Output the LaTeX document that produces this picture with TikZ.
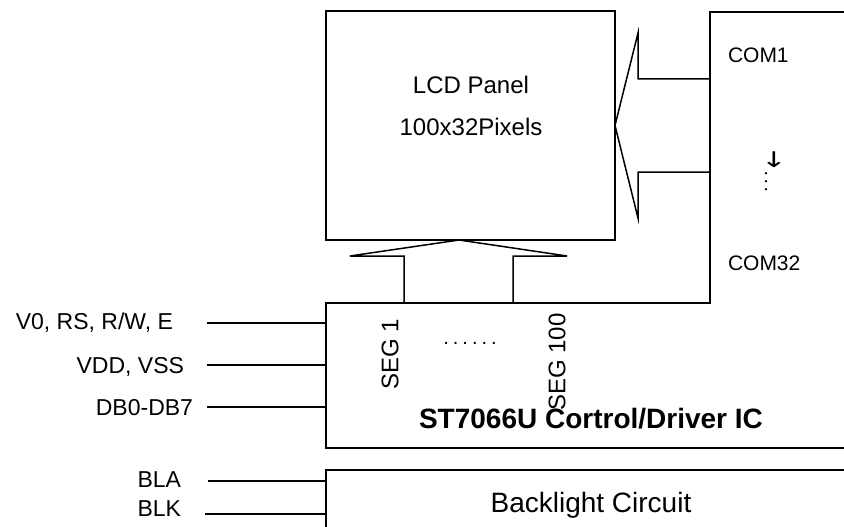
\documentclass[tikz,border=0pt]{standalone}
\usepackage{fontspec}
\setmainfont{Liberation Sans}
\newfontfamily\symfont{DejaVu Sans}
\usepackage{tikz}
\usetikzlibrary{positioning}

\begin{document}
\begin{tikzpicture}[
    x=1pt, y=-1pt,
    line width=1.5pt,
    every node/.style={inner sep=0pt, outer sep=0pt},
    panel/.style={draw, minimum width=289pt, minimum height=229pt},
    pinlbl/.style={font=\fontsize{23}{27}\selectfont, anchor=base east},
    comlbl/.style={font=\fontsize{21}{25}\selectfont, anchor=base west},
    seglbl/.style={font=\fontsize{24}{28}\selectfont, rotate=90},
    txt/.style={font=\fontsize{24}{28}\selectfont},
    big/.style={font=\fontsize{28}{32}\selectfont, anchor=base}
]
\useasboundingbox (0,0) rectangle (844,527);
\node[panel] (lcd) at (470.5,125.5) {};
\node[txt] (lcdname) at (471,85) {LCD Panel};
\node[txt] (lcdsize) at (471,127) {100x32Pixels};
\coordinate (icnw) at (326,303);
\coordinate (blnw) at (326,470);
\coordinate (segtip) at (459,240);
% driver outline and backlight box
\draw (844,12) -- (710,12) -- (710,303) -- (icnw) -- (326,448) -- (844,448);
\draw (844,470) -- (blnw) -- (326,527);
% COM and SEG buses
\draw (710,79) -- (638,79) -- (638,33) -- (lcd.east) -- (638,218) -- (638,172) -- (710,172);
\draw (404,303) -- (404,256) -- (350,256) -- (segtip) -- (567,256) -- (513,256) -- (513,303);
\node[comlbl] (com1) at (728,63) {COM1};
\node[comlbl] (com32) at (728,270) {COM32};
\node[font=\symfont\fontsize{24}{28}\selectfont] (comdir) at (774,160) {\scalebox{1.3}[0.9]{↓}};
\node[font=\fontsize{20}{24}\selectfont, rotate=90] (comdots) at (766,182) {.\kern2.5pt.\kern2.5pt.};
\node[seglbl] (seg1) at (390,354) {SEG 1};
\node[seglbl] (seg100) at (557,362) {SEG 100};
\node[font=\fontsize{20}{24}\selectfont, anchor=base] (segdots) at (470,344) {.\kern4pt.\kern4pt.\kern4pt.\kern4pt.\kern4pt.};
\node[big, font=\bfseries\fontsize{28}{32}\selectfont] (ic) at (591,428) {ST7066U Cortrol/Driver IC};
\node[big] (bl) at (591,512) {Backlight Circuit};
% interface pins
\node[pinlbl] (ctl) at (173,329) {V0, RS, R/W, E};
\node[pinlbl] (pwr) at (184,373) {VDD, VSS};
\node[pinlbl] (data) at (193,415) {DB0-DB7};
\node[pinlbl] (bla) at (181,487) {BLA};
\node[pinlbl] (blk) at (181,516) {BLK};
\coordinate (ctlend) at (207,323);
\coordinate (pwrend) at (207,365);
\coordinate (dataend) at (207,407);
\coordinate (blaend) at (208,481);
\coordinate (blkend) at (205,514);
\draw (ctlend) -- (ctlend -| icnw);
\draw (pwrend) -- (pwrend -| icnw);
\draw (dataend) -- (dataend -| icnw);
\draw (blaend) -- (blaend -| blnw);
\draw (blkend) -- (blkend -| blnw);
\end{tikzpicture}
\end{document}
